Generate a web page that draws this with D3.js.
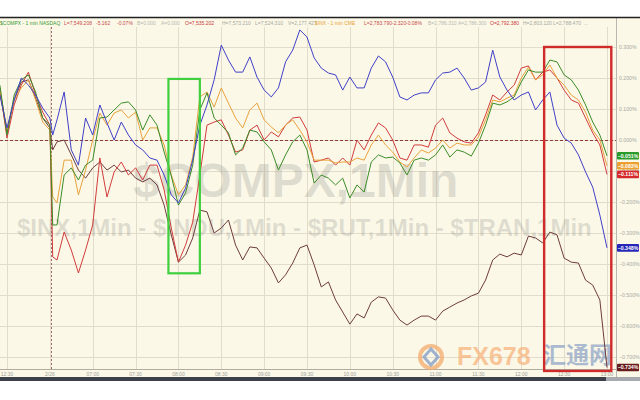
<!DOCTYPE html>
<html><head><meta charset="utf-8">
<script src="https://cdn.jsdelivr.net/npm/d3@7/dist/d3.min.js"></script>
<style>
body{margin:0;background:#fff;}
svg{display:block;font-family:"Liberation Sans",Arial,sans-serif;}
</style>
</head><body>
<svg id="chart" width="640" height="400"></svg>
<script>
// ---- data (percent change, 1-min sampled every ~5 min) ----
const minutes = [-5,0,5,10,15,20,25,30,32,35,
  40,45,50,55,60,65,70,75,80,85,
  90,95,100,105,110,115,120,125,130,135,
  140,145,150,155,160,165,170,175,180,185,
  190,195,200,205,210,215,220,225,230,235,
  240,245,250,255,260,265,270,275,280,285,
  290,295,300,305,310,315,320,325,330,335,
  340,345,350,355,360,365,370,375,380,385,
  390,395,400,405,410,415,420];
const compx = [0.145,0.039,0.129,0.2,0.177,0.145,0.103,0.071,0.016,0.065,
  0.155,-0.032,-0.081,0.071,0.016,0.113,0.055,0,0.058,0.016,
  -0.016,-0.032,-0.058,-0.065,-0.113,-0.177,-0.203,-0.155,-0.065,0.048,
  0.113,0.194,0.306,0.258,0.219,0.219,0.268,0.203,0.161,0.139,
  0.168,0.252,0.29,0.355,0.332,0.265,0.232,0.216,0.21,0.161,
  0.203,0.168,0.168,0.232,0.271,0.252,0.203,0.139,0.129,0.145,
  0.152,0.152,0.194,0.216,0.219,0.232,0.2,0.161,0.168,0.187,
  0.29,0.203,0.161,0.129,0.145,0.155,0.097,0.129,0.155,0.048,
  0.006,-0.01,-0.048,-0.103,-0.152,-0.242,-0.348];
const indu = [0.177,0.016,0.145,0.194,0.21,0.155,0.071,0.048,-0.274,-0.274,
  -0.113,-0.09,-0.129,-0.081,-0.065,0.071,0.074,0.097,0.119,0.123,
  0.097,0.032,0.081,0.048,-0.039,-0.116,-0.21,-0.171,-0.081,0.097,
  0.152,0.071,0.048,0.023,-0.048,-0.026,0.032,0.026,-0.006,-0.032,
  -0.097,-0.048,-0.006,0.016,-0.032,-0.139,-0.113,-0.123,-0.145,-0.123,
  -0.187,-0.145,-0.168,-0.071,-0.048,-0.058,-0.055,-0.074,-0.113,-0.065,
  -0.058,-0.065,-0.048,-0.016,-0.055,-0.032,-0.039,-0.052,-0.01,0.048,
  0.119,0.113,0.123,0.139,0.187,0.226,0.219,0.219,0.258,0.252,
  0.21,0.194,0.161,0.113,0.058,0.016,-0.051];
const inx = [0.161,0.032,0.129,0.168,0.194,0.129,0.058,0.032,-0.184,-0.203,
  -0.065,-0.065,-0.177,-0.097,0,0.087,0.048,0.087,0.097,0.071,
  0.09,0,0.039,0.039,-0.016,-0.113,-0.177,-0.145,-0.055,0.139,
  0.155,0.106,0.168,0.119,0.071,0.039,0.097,0.119,0.065,0.042,
  0.023,0.048,0.065,0.032,-0.006,-0.065,-0.065,-0.065,-0.074,-0.071,
  -0.071,-0.058,-0.065,-0.016,0.016,-0.016,-0.039,-0.071,-0.087,-0.058,
  -0.032,-0.042,-0.026,0,-0.026,-0.01,-0.016,-0.016,0.01,0.065,
  0.129,0.123,0.135,0.145,0.2,0.235,0.194,0.21,0.242,0.2,
  0.177,0.145,0.129,0.09,0.032,0,-0.083];
const rut = [0.168,0.006,0.113,0.177,0.219,0.145,0.09,0.048,-0.377,-0.387,
  -0.297,-0.355,-0.429,-0.355,-0.274,-0.058,-0.184,-0.103,-0.071,-0.113,
  -0.09,-0.129,-0.081,-0.081,-0.161,-0.284,-0.394,-0.339,-0.265,-0.113,
  0.048,0.058,0.065,0.016,-0.039,-0.032,0.032,0.048,0,0.026,
  0.01,0.048,0.071,0.074,0.032,-0.071,-0.065,-0.058,-0.081,-0.058,
  -0.081,0,-0.032,0.016,0.055,0.039,0,-0.058,-0.065,-0.016,
  -0.016,-0.023,0.048,0.071,0.023,0.006,-0.006,-0.01,0.023,0.081,
  0.145,0.129,0.155,0.177,0.232,0.239,0.194,0.219,0.226,0.2,
  0.161,0.129,0.119,0.071,0.023,-0.016,-0.111];
const tran = [0.155,0.026,0.129,0.187,0.194,0.135,0.071,0.039,-0.032,-0.006,
  0,-0.048,-0.097,-0.123,-0.09,-0.071,-0.097,-0.081,-0.103,-0.097,
  -0.123,-0.135,-0.123,-0.145,-0.21,-0.306,-0.394,-0.371,-0.316,-0.226,
  -0.232,-0.3,-0.284,-0.258,-0.339,-0.387,-0.345,-0.348,-0.381,-0.413,
  -0.461,-0.435,-0.397,-0.348,-0.339,-0.403,-0.474,-0.458,-0.516,-0.555,
  -0.594,-0.561,-0.574,-0.523,-0.506,-0.51,-0.548,-0.581,-0.597,-0.581,
  -0.568,-0.568,-0.581,-0.552,-0.539,-0.526,-0.516,-0.503,-0.494,-0.452,
  -0.387,-0.368,-0.377,-0.365,-0.371,-0.31,-0.316,-0.332,-0.297,-0.306,
  -0.381,-0.394,-0.397,-0.452,-0.468,-0.516,-0.734];
const yTickValues = [0.3,0.2,0.1,0,-0.1,-0.2,-0.3,-0.4,-0.5,-0.6,-0.7];
const xTickMinutes = [0,30,60,90,120,150,180,210,240,270,300,330,360,390,420];
const xTickLabels = ["12:30","2/26","07:00","07:30","08:00","08:30","09:00","09:30","10:00","10:30","11:00","11:30","12:00","12:30","13:00"];
const seriesNames = ["$TRAN","$RUT","$INX","$INDU","$COMPX"];
const seriesColors = ["#6e3c3c","#d23c3c","#e8a23c","#3c8c28","#4040c8"];
const badgeColors = ["#6a1c1c","#d42a2a","#eca030","#2a9a2a","#2626b8"];
const seriesData = [tran, rut, inx, indu, compx];
const openMinute = 31;
const greenBox = [113, 135, 0.197, -0.43];  // minutes / percent extents
const redBox = [376, 423, 0.3, -0.745];

// ---- layout ----
const svg = d3.select("#chart");
const W = 640, H = 400;
const plotTop = 17, plotBottom = 369, plotRight = 616;
const x = d3.scaleLinear().domain([0, 420]).range([7, 607]);
const y = d3.scaleLinear().domain([-0.7, 0.3]).range([357, 47]);
const bg = "#fbf8e8";

svg.append("rect").attr("x",0).attr("y",0).attr("width",W).attr("height",H).attr("fill","#fff");
svg.append("rect").attr("x",0).attr("y",plotTop).attr("width",W).attr("height",plotBottom-plotTop+8).attr("fill",bg);

// grid
const grid = svg.append("g").attr("stroke","#e2ddcb").attr("stroke-width",1);
grid.selectAll("line.h").data(yTickValues).join("line")
  .attr("x1",0).attr("x2",plotRight).attr("y1",d=>Math.round(y(d))+0.5).attr("y2",d=>Math.round(y(d))+0.5);
grid.selectAll("line.v").data(xTickMinutes).join("line")
  .attr("y1",plotTop+10).attr("y2",plotBottom).attr("x1",d=>Math.round(x(d))+0.5).attr("x2",d=>Math.round(x(d))+0.5);

// watermarks
svg.append("text").attr("x",133).attr("y",197).attr("font-size",48).attr("font-weight","bold")
  .attr("fill","#8a8a80").attr("fill-opacity",0.25).text("$COMPX,1Min");
svg.append("text").attr("x",17).attr("y",236).attr("font-size",24).attr("font-weight","bold")
  .attr("fill","#8a8a80").attr("fill-opacity",0.25).text("$INX,1Min - $INDU,1Min - $RUT,1Min - $TRAN,1Min");

// zero line & open line
svg.append("line").attr("x1",0).attr("x2",plotRight).attr("y1",y(0)+0.5).attr("y2",y(0)+0.5)
  .attr("stroke","#8c3a3a").attr("stroke-width",1).attr("stroke-dasharray","3,2");
svg.append("line").attr("x1",Math.round(x(openMinute))+0.5).attr("x2",Math.round(x(openMinute))+0.5)
  .attr("y1",plotTop+10).attr("y2",plotBottom).attr("stroke","#a06a6a").attr("stroke-width",1).attr("stroke-dasharray","2,2");

// axes frame
svg.append("line").attr("x1",plotRight+0.5).attr("x2",plotRight+0.5).attr("y1",plotTop).attr("y2",plotBottom+8)
  .attr("stroke","#b8b8b0");
svg.append("line").attr("x1",0).attr("x2",plotRight).attr("y1",plotBottom+0.5).attr("y2",plotBottom+0.5)
  .attr("stroke","#b0aca0");

// logo watermark
const logo = svg.append("g").attr("opacity",0.72);
logo.append("circle").attr("cx",431).attr("cy",357).attr("r",11).attr("fill","none")
  .attr("stroke","#f3a868").attr("stroke-width",4);
logo.append("path").attr("d","M431,349 L438,357 L431,365 L424,357 Z").attr("fill","none")
  .attr("stroke","#7d98c4").attr("stroke-width",3);
logo.append("text").attr("x",457).attr("y",365).attr("font-size",25).attr("font-weight","bold")
  .attr("fill","#f7b27a").text("FX678");
logo.append("text").attr("x",543).attr("y",363).attr("font-size",23).attr("font-weight","bold")
  .attr("font-family","'Noto Sans CJK SC',sans-serif").attr("fill","#8da3c6").text("汇通网");

// lines
const line = d3.line().x((d,i)=>x(minutes[i])).y(d=>y(d));
svg.append("g").selectAll("path").data(seriesData).join("path")
  .attr("d",d=>line(d)).attr("fill","none")
  .attr("stroke",(d,i)=>seriesColors[i]).attr("stroke-width",1).attr("stroke-linejoin","round");

// highlight boxes
svg.append("rect").attr("x",x(greenBox[0])).attr("y",y(greenBox[2]))
  .attr("width",x(greenBox[1])-x(greenBox[0])).attr("height",y(greenBox[3])-y(greenBox[2]))
  .attr("fill","none").attr("stroke","#3fcf3f").attr("stroke-width",2.2);
svg.append("rect").attr("x",x(redBox[0])).attr("y",y(redBox[2]))
  .attr("width",x(redBox[1])-x(redBox[0])).attr("height",y(redBox[3])-y(redBox[2]))
  .attr("fill","none").attr("stroke","#d12a2a").attr("stroke-width",2.4);

// right axis labels
const fmt = d3.format(".3f");
svg.append("g").selectAll("text").data(yTickValues).join("text")
  .attr("x",619).attr("y",d=>y(d)+2).attr("font-size",5.2).attr("fill","#a8a8a0")
  .text(d=>fmt(d)+"%");

// x axis labels
svg.append("g").selectAll("text").data(xTickMinutes).join("text")
  .attr("x",d=>x(d)).attr("y",376).attr("font-size",5).attr("fill","#a0a098").attr("text-anchor","middle")
  .text((d,i)=>xTickLabels[i]);

// end badges with simple collision avoidance
const ends = seriesData.map((s,i)=>({v:s[s.length-1], i, yy:y(s[s.length-1])}));
ends.sort((a,b)=>a.yy-b.yy);
for (let k=1;k<ends.length;k++){ if (ends[k].yy-ends[k-1].yy<8.6) ends[k].yy=ends[k-1].yy+8.6; }
const badges = svg.append("g").selectAll("g").data(ends).join("g");
badges.append("rect").attr("x",617).attr("y",d=>d.yy-3.8).attr("width",22).attr("height",7.6).attr("rx",1)
  .attr("fill",d=>badgeColors[d.i]);
badges.append("text").attr("x",628).attr("y",d=>d.yy+1.9).attr("text-anchor","middle")
  .attr("font-size",5.2).attr("font-weight","bold").attr("fill","#fff").text(d=>fmt(d.v)+"%");

// bottom scroll bar
svg.append("rect").attr("x",0).attr("y",377).attr("width",W).attr("height",4).attr("fill","#3c4149");
svg.append("rect").attr("x",606).attr("y",377).attr("width",34).attr("height",4).attr("fill","#a7abb0");
svg.append("rect").attr("x",0).attr("y",381).attr("width",W).attr("height",19).attr("fill","#fff");

// header
svg.append("rect").attr("x",0).attr("y",0).attr("width",W).attr("height",plotTop).attr("fill","#fff");
svg.append("line").attr("x1",0).attr("x2",W).attr("y1",plotTop+0.5).attr("y2",plotTop+0.5).attr("stroke","#222").attr("stroke-width",1.3);
const header = [
  [0,"$COMPX - 1 min  NASDAQ","#3a9a32"],[64,"L=7,549.208","#c84a4a"],[96,"-5.162","#c84a4a"],[117,"-0.07%","#c84a4a"],
  [137,"B=0.000","#b8b8b0"],[161,"A=0.000","#b8b8b0"],[185,"O=7,535.202","#c83a3a"],[222,"H=7,573.210","#a8a8a0"],
  [255,"L=7,524.310","#a8a8a0"],[288,"V=2,177,427","#a8a8a0"],[315,"$INX - 1 min  CME","#e6a236"],[364,"L=2,783.790","#c84a4a"],
  [392,"-2.320","#c84a4a"],[406,"-0.08%","#c84a4a"],[428,"B=2,786.310","#b8b8b0"],[458,"A=2,786.300","#b8b8b0"],
  [490,"O=2,792.380","#c83a3a"],[523,"H=2,803.120","#a8a8a0"],[553,"L=2,788.470","#a8a8a0"],[584,"...","#a8a8a0"]
];
svg.append("g").selectAll("text").data(header).join("text")
  .attr("x",d=>d[0]).attr("y",24.5).attr("font-size",5).attr("fill",d=>d[2]).text(d=>d[1]);
</script>
</body></html>
